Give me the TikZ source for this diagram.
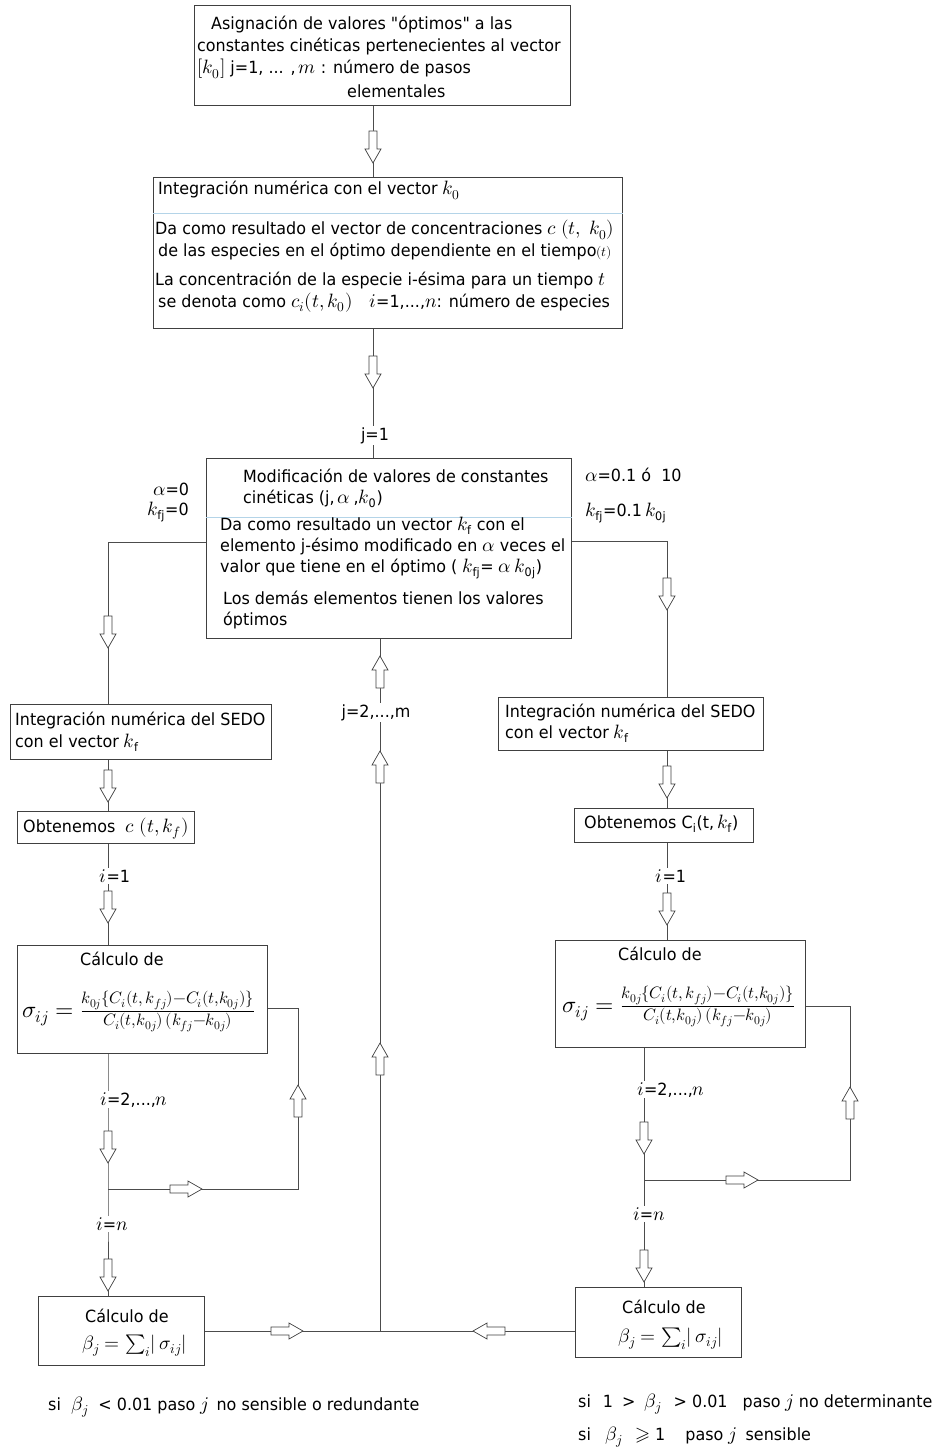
\documentclass[tikz,border=0pt]{standalone}
\usepackage{amsmath}
\usepackage{unicode-math}
\setmainfont{DejaVu Sans}[FakeStretch=0.95]
\newfontfamily\qfont{DejaVu Sans}[FakeStretch=0.95, Ligatures=TeXOff]
\setmathfont{Latin Modern Math}[Scale=1.15]
\usetikzlibrary{calc}
\definecolor{sepblue}{RGB}{180,212,232}
\newcommand\myfs{\fontsize{16.8}{20}\selectfont}
\newcommand\myfm{\fontsize{20.5}{24}\selectfont}
\tikzset{
  box/.style={draw=black!75, line width=0.8pt, anchor=north west, inner sep=0pt},
  txt/.style={anchor=base west, inner sep=0pt, font=\myfs},
  conn/.style={draw=black!70, line width=0.8pt},
  lbl/.style={fill=white, inner sep=1.5pt, anchor=base, font=\myfs},
  sepline/.style={draw=sepblue, line width=0.8pt},
  harrow/.pic={\draw[draw=black!75, fill=white, line width=0.7pt]
     (-16,-4) -- (2,-4) -- (2,-8) -- (16,0) -- (2,8) -- (2,4) -- (-16,4) -- cycle;}
}
\begin{document}
\begin{tikzpicture}[x=1pt,y=-1pt]
\useasboundingbox[fill=white] (0,0) rectangle (943,1447);

% ---------- boxes ----------
\node[box, minimum width=376pt, minimum height=100pt] (b1) at (194,5) {};
\node[box, minimum width=469pt, minimum height=151pt] (b2) at (153,177) {};
\node[box, minimum width=365pt, minimum height=180pt] (b3) at (206,458) {};
\node[box, minimum width=261pt, minimum height=55pt] (l1) at (10,704) {};
\node[box, minimum width=177pt, minimum height=32pt] (l2) at (17,811) {};
\node[box, minimum width=250pt, minimum height=108pt] (l3) at (17,945) {};
\node[box, minimum width=166pt, minimum height=69pt] (l4) at (38,1296) {};
\node[box, minimum width=265pt, minimum height=53pt] (r1) at (498,697) {};
\node[box, minimum width=179pt, minimum height=34pt] (r2) at (574,808) {};
\node[box, minimum width=250pt, minimum height=107pt] (r3) at (555,940) {};
\node[box, minimum width=166pt, minimum height=70pt] (r4) at (575,1287) {};

% separators
\coordinate (s2) at (0,213);
\coordinate (s3) at (0,517);
\draw[sepline] (b2.west |- s2) -- (b2.east |- s2);
\draw[sepline] (b3.west |- s3) -- (b3.east |- s3);

% ---------- box texts ----------
\node[txt] (t11) at (211,30) {Asignación de valores {\qfont"}óptimos{\qfont"} a las};
\node[txt] (t12) at (197,52) {constantes cinéticas pertenecientes al vector};
\node[txt] (t13) at (197,74) {$[k_0]$ j=1, ... ,$\,m$ : número de pasos};
\node[txt] (t14) at (347,98) {elementales};

\node[txt] (t21) at (158,195) {Integración numérica con el vector $k_0$};
\node[txt] (t22) at (155,235) {Da como resultado el vector de concentraciones $c\ (t,\ k_0)$};
\node[txt] (t23) at (158,257) {de las especies en el óptimo dependiente en el tiempo$\scriptstyle(t)$};
\node[txt] (t24) at (155,285) {La concentración de la especie i-ésima para un tiempo $t$};
\node[txt] (t25) at (158,307) {se denota como $c_i(t,k_0)$\quad $i$=1,...,$n$: número de especies};

\node[txt] (t31) at (243,482) {Modificación de valores de constantes};
\node[txt] (t32) at (243,503) {cinéticas (j,$\,\alpha\,$,$k_{\mathrm{0}}$)};
\node[txt] (t33) at (220,530) {Da como resultado un vector $k_{\mathrm{f}}$ con el};
\node[txt] (t34) at (220,551) {elemento j-ésimo modificado en $\alpha$ veces el};
\node[txt] (t35) at (220,572) {valor que tiene en el óptimo ( $k_{\mathrm{fj}}$= $\alpha\,k_{\mathrm{0j}}$)};
\node[txt] (t36) at (223,604) {Los demás elementos tienen los valores};
\node[txt] (t37) at (223,625) {óptimos};

\node[txt] (la1) at (153,495) {$\alpha$=0};
\node[txt] (la2) at (147,515) {$k_{\mathrm{fj}}$=0};
\node[txt] (ra1) at (585,481) {$\alpha$=0.1 ó\ \ 10};
\node[txt] (ra2) at (585,516) {$k_{\mathrm{fj}}$=0.1$\,k_{\mathrm{0j}}$};

\node[txt] (tl11) at (15,725) {Integración numérica del SEDO};
\node[txt] (tl12) at (15,747) {con el vector $k_{\mathrm{f}}$};
\node[txt] (tl2) at (23,832) {Obtenemos\ \ $c\ (t,k_f)$};
\node[txt] (tl31) at (80,965) {Cálculo de};
\node[txt, font=\myfm] (tl32) at (22,1017) {$\sigma_{ij}=\frac{k_{0j}\{C_i(t,\,k_{fj})-C_i(t,k_{0j})\}}{C_i(t,k_{0j})\,(k_{fj}-k_{0j})}$};
\node[txt] (tl41) at (85,1322) {Cálculo de};
\node[txt] (tl42) at (82,1349) {$\beta_j=\sum_i\lvert\,\sigma_{ij}\rvert$};

\node[txt] (tr11) at (505,717) {Integración numérica del SEDO};
\node[txt] (tr12) at (505,738) {con el vector $k_{\mathrm{f}}$};
\node[txt] (tr2) at (584,828) {Obtenemos C$_{\mathrm{i}}$(t,$\,k_{\mathrm{f}}$)};
\node[txt] (tr31) at (618,960) {Cálculo de};
\node[txt, font=\myfm] (tr32) at (562,1012) {$\sigma_{ij}=\frac{k_{0j}\{C_i(t,\,k_{fj})-C_i(t,k_{0j})\}}{C_i(t,k_{0j})\,(k_{fj}-k_{0j})}$};
\node[txt] (tr41) at (622,1313) {Cálculo de};
\node[txt] (tr42) at (618,1342) {$\beta_j=\sum_i\lvert\,\sigma_{ij}\rvert$};

% ---------- main column ----------
\coordinate (mx) at (373,0);
\draw[conn] (b1.south -| mx) -- (b2.north -| mx);
\pic[rotate=-90] at (373,147) {harrow};
\draw[conn] (b2.south -| mx) -- (b3.north -| mx);
\pic[rotate=-90] at (373,372) {harrow};
\node[lbl] (j1) at (375,440) {j=1};

% ---------- branches ----------
\coordinate (lx) at (108,542);
\draw[conn] (b3.west |- lx) -- (lx) -- (l1.north -| lx);
\pic[rotate=-90] at (108,632) {harrow};
\coordinate (rx) at (667,541);
\draw[conn] (b3.east |- rx) -- (rx) -- (r1.north -| rx);
\pic[rotate=-90] at (667,594) {harrow};

% ---------- left chain ----------
\coordinate (lc) at (108,0);
\draw[conn] (l1.south -| lc) -- (l2.north -| lc);
\pic[rotate=-90] at (108,786) {harrow};
\draw[conn] (l2.south -| lc) -- (l3.north -| lc);
\node[lbl] (li1) at (115,882) {$i$=1};
\pic[rotate=-90] at (108,907) {harrow};
\coordinate (lj) at (108,1189);
\coordinate (lr) at (298,1189);
\coordinate (lt) at (298,1008);
\draw[conn] (l3.south -| lc) -- (lj) -- (l4.north -| lc);
\draw[conn] (lj) -- (lr) -- (lt) -- (l3.east |- lt);
\node[lbl] (li2) at (134,1105) {$i$=2,...,$n$};
\pic[rotate=-90] at (108,1147) {harrow};
\pic at (186,1189) {harrow};
\pic[rotate=90] at (298,1101) {harrow};
\node[lbl] (li3) at (112,1230) {$i$=$n$};
\pic[rotate=-90] at (108,1275) {harrow};

% ---------- right chain ----------
\coordinate (rc) at (667,0);
\draw[conn] (r1.south -| rc) -- (r2.north -| rc);
\pic[rotate=-90] at (667,782) {harrow};
\draw[conn] (r2.south -| rc) -- (r3.north -| rc);
\node[lbl] (ri1) at (671,882) {$i$=1};
\pic[rotate=-90] at (667,909) {harrow};
\coordinate (rc2) at (644,0);
\coordinate (rj) at (644,1180);
\coordinate (rr) at (850,1180);
\coordinate (rt) at (850,1006);
\draw[conn] (r3.south -| rc2) -- (rj) -- (r4.north -| rc2);
\draw[conn] (rj) -- (rr) -- (rt) -- (r3.east |- rt);
\node[lbl] (ri2) at (671,1095) {$i$=2,...,$n$};
\pic[rotate=-90] at (644,1138) {harrow};
\pic at (742,1180) {harrow};
\pic[rotate=90] at (850,1103) {harrow};
\node[lbl] (ri3) at (649,1220) {$i$=$n$};
\pic[rotate=-90] at (644,1266) {harrow};

% ---------- return column ----------
\coordinate (mb) at (380,1331);
\draw[conn] (l4.east |- mb) -- (mb);
\pic at (287,1331) {harrow};
\draw[conn] (r4.west |- mb) -- (mb);
\pic[rotate=180] at (489,1331) {harrow};
\draw[conn] (mb) -- (b3.south -| mb);
\pic[rotate=90] at (380,672) {harrow};
\node[lbl] (j2) at (376,717) {j=2,...,m};
\pic[rotate=90] at (380,767) {harrow};
\pic[rotate=90] at (380,1059) {harrow};

% ---------- bottom notes ----------
\node[txt] (n1) at (48,1410) {si\ \ $\beta_j$\ \ < 0.01 paso $j$\, no sensible o redundante};
\node[txt] (n2) at (578,1407) {si\hspace{12pt}1\hspace{9pt}>\hspace{9pt}$\beta_j$\hspace{12pt}> 0.01\hspace{15pt}paso $j$ no determinante};
\node[txt] (n3) at (578,1440) {si\hspace{15pt}$\beta_j$\hspace{12pt}$\geqslant$ 1\hspace{20pt}paso $j$\hspace{9pt}sensible};
\end{tikzpicture}
\end{document}
